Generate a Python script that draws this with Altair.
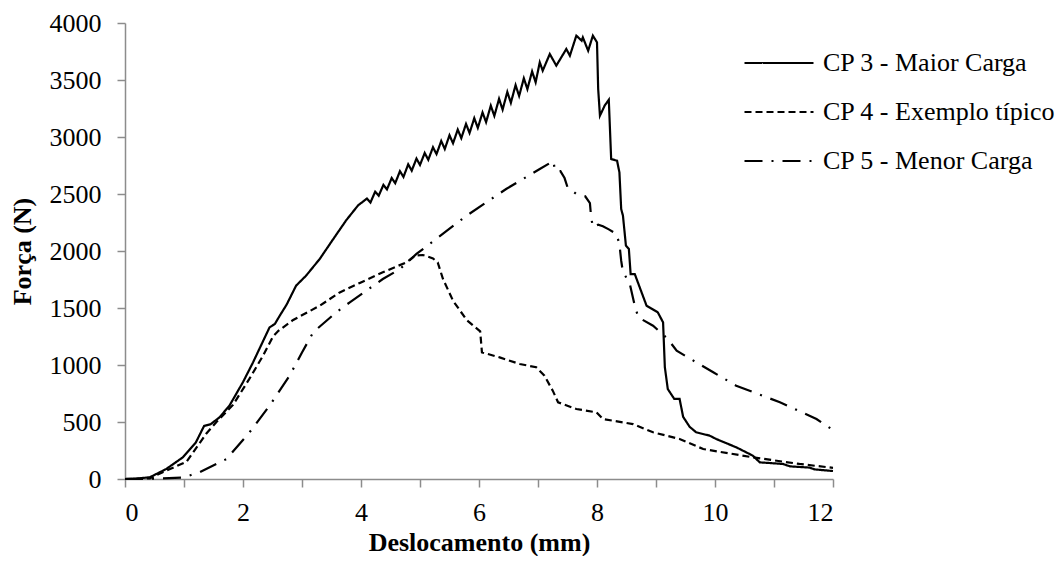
import altair as alt
import pandas as pd

SERIES = ["CP 3 - Maior Carga", "CP 4 - Exemplo típico", "CP 5 - Menor Carga"]
DASHES = [[1, 0], [7, 4], [18, 9, 2, 9]]

X_TICKS = [0, 1, 2, 3, 4, 5, 6, 7, 8, 9, 10, 11, 12]
Y_TICKS = [0, 500, 1000, 1500, 2000, 2500, 3000, 3500, 4000]

CP3_X = [0, 0.2, 0.42, 0.7, 0.98, 1.2, 1.34, 1.45, 1.6, 1.77, 2.0, 2.17, 2.45, 2.54, 2.62, 2.74, 2.9,
         3.07, 3.3, 3.53, 3.75, 3.95,
         4.10, 4.16, 4.24, 4.30, 4.38, 4.44, 4.52, 4.58, 4.66, 4.72, 4.80, 4.86, 4.94, 5.00,
         5.08, 5.14, 5.22, 5.28, 5.36, 5.42, 5.50, 5.56, 5.64, 5.70, 5.78, 5.84, 5.92, 5.98,
         6.06, 6.12, 6.20, 6.26, 6.34, 6.40, 6.48, 6.54, 6.62, 6.68, 6.76, 6.82, 6.90, 6.96,
         7.03, 7.08, 7.20, 7.31, 7.48, 7.54, 7.65, 7.74, 7.76, 7.85, 7.93, 8.0, 8.02, 8.05,
         8.13, 8.20, 8.24, 8.34, 8.38, 8.41, 8.44, 8.49, 8.54, 8.57, 8.64, 8.84, 9.03, 9.12,
         9.15, 9.20, 9.31, 9.40, 9.46, 9.57, 9.68, 9.91, 10.02, 10.36, 10.64, 10.76, 11.15,
         11.27, 11.60, 11.69, 12.0]
CP3_Y = [0, 4, 15, 88, 190, 320, 465, 480, 540, 643, 850, 1023, 1330, 1360, 1430, 1530, 1696,
         1784, 1930, 2105, 2270, 2400,
         2460, 2425, 2520, 2485, 2580, 2540, 2640, 2595, 2700, 2650, 2760, 2705, 2810, 2755,
         2860, 2800, 2910, 2850, 2965, 2895, 3015, 2945, 3065, 2990, 3115, 3035, 3165, 3080,
         3215, 3130, 3275, 3185, 3335, 3240, 3395, 3300, 3455, 3360, 3515, 3420, 3575, 3480,
         3655, 3582, 3728, 3626, 3772, 3713, 3889, 3845, 3874, 3757, 3889, 3830, 3421, 3187,
         3275, 3327, 2807, 2792, 2690, 2368, 2310, 2047, 2018, 1798, 1798, 1520, 1462, 1374,
         980, 789, 702, 702, 545, 458, 410, 380, 351, 278, 205, 146, 132,
         111, 100, 84, 70]

CP4_X = [0, 0.42, 0.64, 1.04, 1.38, 1.55, 1.83, 2.11, 2.34, 2.51, 2.6, 2.85, 3.3, 3.64, 3.98,
         4.37, 4.77, 4.92, 5.05, 5.22, 5.30, 5.39, 5.56, 5.79, 6.02, 6.05, 6.35, 6.69, 6.97,
         7.11, 7.25, 7.34, 7.65, 7.99, 8.10, 8.61, 8.95, 9.40, 9.80, 10.64, 11.43, 12.0]
CP4_Y = [0, 5, 60, 150, 400, 500, 650, 880, 1082, 1250, 1300, 1395, 1520, 1637, 1720,
         1813, 1901, 1960, 1965, 1935, 1900, 1754, 1564, 1395, 1295, 1111, 1067, 1009, 980,
         906, 775, 673, 614, 585, 526, 482, 410, 351, 263, 190, 132, 98]

CP5_X = [0, 0.5, 0.98, 1.12, 1.27, 1.72, 2.11, 2.45, 2.79, 3.0, 3.19, 3.58, 3.81, 4.37, 4.66,
         4.94, 5.79, 6.46, 7.03, 7.26, 7.29, 7.38, 7.45, 7.50, 7.65, 7.80, 7.88, 7.90, 7.93,
         8.02, 8.10, 8.20, 8.33, 8.38, 8.41, 8.44, 8.55, 8.64, 8.70, 8.95, 9.20, 9.35, 9.97,
         10.36, 11.10, 11.72, 12.0]
CP5_Y = [0, 3, 12, 35, 60, 175, 409, 643, 906, 1110, 1287, 1462, 1550, 1754, 1842,
         1974, 2310, 2544, 2719, 2790, 2700, 2700, 2640, 2560, 2500, 2480, 2420, 2300, 2208,
         2230, 2217, 2190, 2149, 2061, 1915, 1813, 1725, 1520, 1418, 1345, 1228, 1125, 936,
         818, 673, 526, 430]

rows = []
for name, xs, ys in [(SERIES[0], CP3_X, CP3_Y), (SERIES[1], CP4_X, CP4_Y), (SERIES[2], CP5_X, CP5_Y)]:
    for i, (xv, yv) in enumerate(zip(xs, ys)):
        rows.append({"serie": name, "x": xv, "y": yv, "i": i})
df = pd.DataFrame(rows)

FONT = "Liberation Serif"

chart = alt.Chart(df).mark_line(strokeWidth=2.2, color="black").encode(
    x=alt.X("x:Q", scale=alt.Scale(domain=[0, 12], nice=False),
            axis=alt.Axis(title="Deslocamento (mm)", values=X_TICKS,
                          labelExpr="datum.value % 2 == 0 ? datum.label : ''",
                          labelPadding=12, titleY=63, titleBaseline="middle")),
    y=alt.Y("y:Q", scale=alt.Scale(domain=[0, 4000], nice=False),
            axis=alt.Axis(title="Força (N)", values=Y_TICKS, format="d", labelPadding=16,
                          titleX=-103, titleY=228, titleBaseline="middle", titleAngle=-90)),
    strokeDash=alt.StrokeDash("serie:N", scale=alt.Scale(domain=SERIES, range=DASHES),
                              sort=SERIES,
                              legend=alt.Legend(title=None, orient="none", legendX=618, legendY=4,
                                                symbolType="M-1,0H1", symbolSize=4761,
                                                symbolStrokeWidth=2.2, symbolStrokeColor="black",
                                                labelFont=FONT, labelFontSize=26, labelColor="black",
                                                labelLimit=400, labelOffset=8, rowPadding=-2.5,
                                                padding=0)),
    order=alt.Order("i:Q"),
).properties(
    width=708, height=456,
    autosize=alt.AutoSizeParams(type="none"),
    padding={"left": 117, "top": 15, "right": 222, "bottom": 77},
).configure_view(stroke=None).configure_axis(
    grid=False, domainColor="#8c8c8c", domainWidth=1.5, tickColor="#8c8c8c", tickWidth=1.5,
    tickSize=8, labelFont=FONT, labelFontSize=26, labelColor="black", labelPadding=8,
    titleFont=FONT, titleFontSize=26, titleFontWeight="bold", titleColor="black",
)

chart.save("out.html", embed_options={"renderer": "svg", "actions": False})
